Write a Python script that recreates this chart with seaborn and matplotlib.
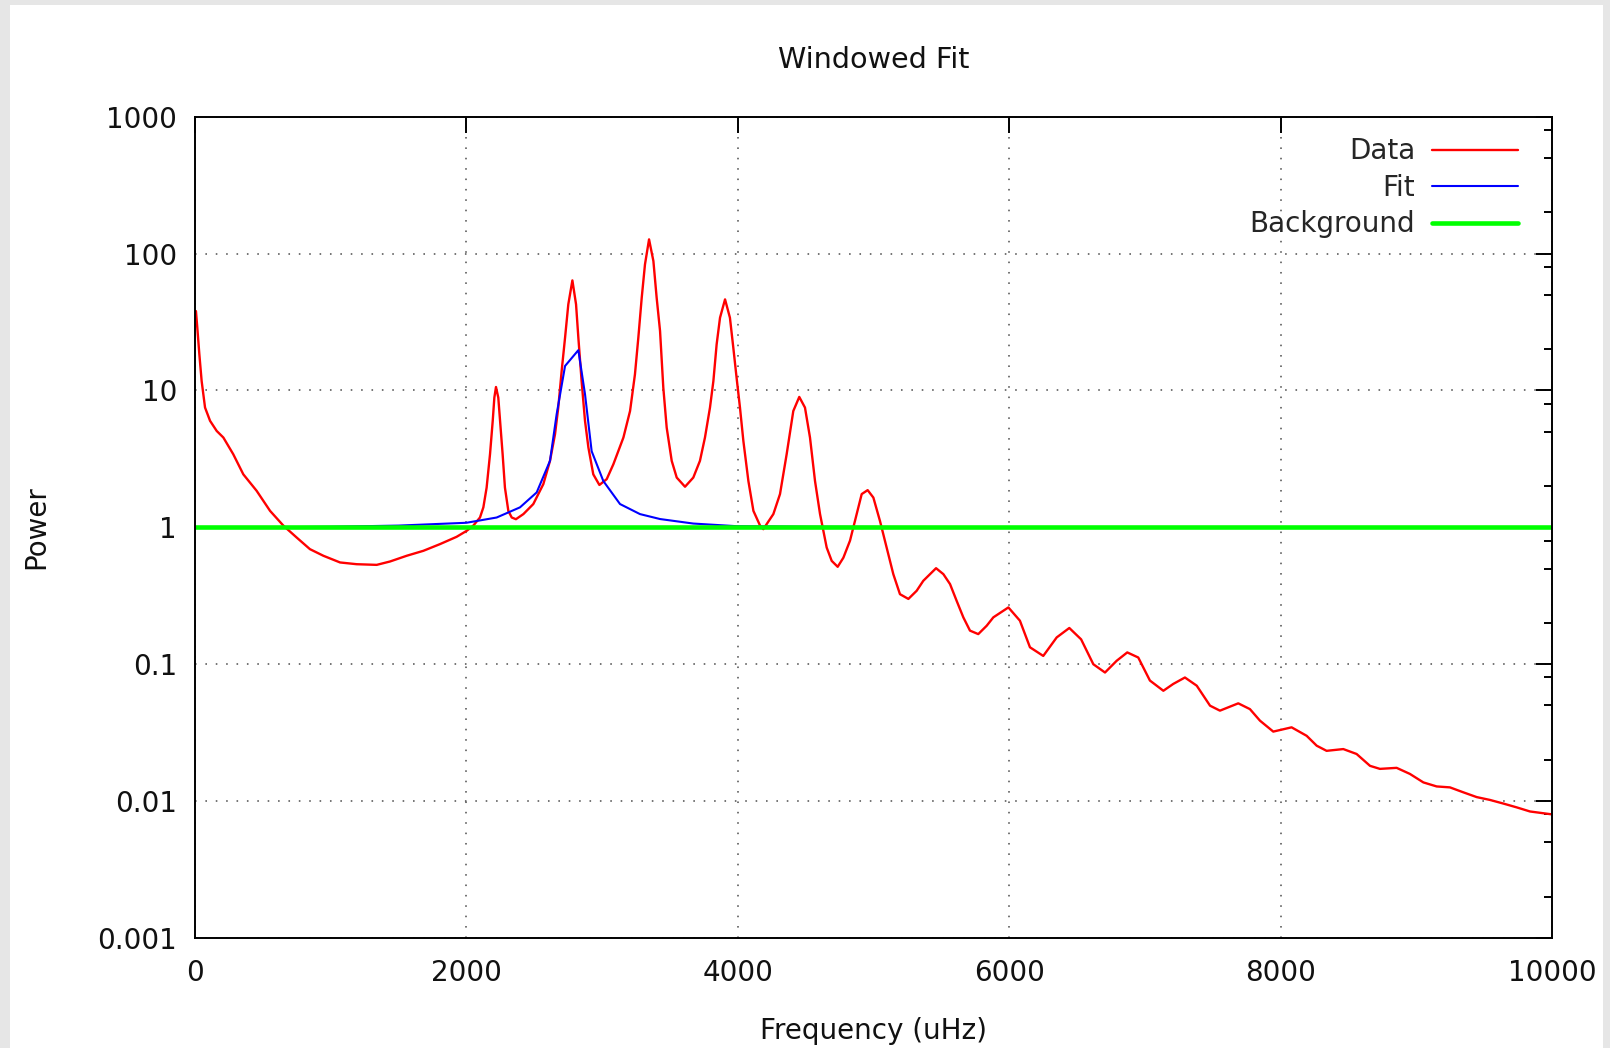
import matplotlib
matplotlib.use("Agg")
import matplotlib.pyplot as plt
from matplotlib.patches import Rectangle
from matplotlib.ticker import LogLocator, FuncFormatter, NullLocator
import seaborn as sns

# Measured power spectrum (frequency in uHz, power)
data_freq = [0, 7, 17, 32, 49, 74, 111, 160, 209, 282, 356, 454, 553, 651, 749, 847,
             946, 1069, 1191, 1339, 1437, 1560, 1683, 1805, 1928, 2002, 2051, 2100,
             2125, 2149, 2174, 2194, 2206, 2218, 2235, 2248, 2267, 2284, 2309, 2334,
             2365, 2420, 2493, 2567, 2616, 2653, 2677, 2702, 2727, 2751, 2781, 2808,
             2825, 2849, 2874, 2899, 2935, 2980, 3034, 3083, 3157, 3206, 3242, 3267,
             3292, 3316, 3346, 3378, 3402, 3427, 3451, 3476, 3513, 3550, 3611, 3672,
             3721, 3758, 3795, 3820, 3844, 3869, 3906, 3942, 3967, 3991, 4016, 4041,
             4078, 4115, 4164, 4188, 4262, 4311, 4360, 4409, 4453, 4495, 4532, 4569,
             4606, 4655, 4692, 4736, 4778, 4827, 4876, 4913, 4957, 4999, 5048, 5097,
             5146, 5195, 5257, 5318, 5367, 5461, 5515, 5564, 5613, 5662, 5711, 5772,
             5834, 5883, 5994, 6079, 6153, 6251, 6350, 6443, 6530, 6620, 6706, 6792,
             6870, 6951, 7037, 7136, 7209, 7295, 7382, 7480, 7553, 7688, 7774, 7848,
             7946, 8081, 8192, 8266, 8339, 8462, 8560, 8659, 8732, 8855, 8953, 9052,
             9150, 9248, 9346, 9445, 9543, 9641, 9740, 9838, 9961, 10000]
data_power = [38, 38, 28.7, 18.4, 11.7, 7.5, 6.0, 5.06, 4.53, 3.42, 2.44, 1.85, 1.32,
              1.03, 0.843, 0.693, 0.62, 0.554, 0.538, 0.532, 0.563, 0.62, 0.674, 0.754,
              0.853, 0.943, 1.03, 1.18, 1.40, 1.95, 3.42, 6.0, 8.87, 10.6, 8.87, 6.0,
              3.42, 1.95, 1.32, 1.18, 1.147, 1.25, 1.48, 2.07, 3.06, 4.79, 7.5, 13.9,
              24.3, 42.6, 63.7, 42.6, 24.3, 11.7, 6.0, 3.83, 2.44, 2.04, 2.25, 2.89,
              4.53, 7.08, 13.1, 24.3, 47.6, 83.4, 127, 88.2, 47.6, 27.2, 10.5, 5.35,
              3.06, 2.31, 1.98, 2.31, 3.06, 4.53, 7.5, 11.7, 21.7, 34.0, 46.3, 34.0,
              20.5, 12.4, 7.5, 4.28, 2.18, 1.32, 1.03, 0.97, 1.25, 1.75, 3.42, 7.08,
              8.97, 7.5, 4.53, 2.18, 1.25, 0.712, 0.569, 0.515, 0.60, 0.80, 1.25, 1.75,
              1.87, 1.65, 1.11, 0.712, 0.455, 0.325, 0.30, 0.344, 0.407, 0.503, 0.455,
              0.385, 0.29, 0.22, 0.176, 0.166, 0.191, 0.22, 0.26, 0.208, 0.133, 0.115,
              0.157, 0.184, 0.152, 0.10, 0.087, 0.106, 0.122, 0.112, 0.076, 0.064,
              0.0718, 0.080, 0.0697, 0.0498, 0.0458, 0.0518, 0.047, 0.0387, 0.0322,
              0.0346, 0.030, 0.0254, 0.0233, 0.024, 0.0221, 0.0181, 0.0172, 0.0175,
              0.0158, 0.0137, 0.0128, 0.0126, 0.0116, 0.0107, 0.0102, 0.0096, 0.0090,
              0.0084, 0.0081, 0.0080]

# Single-mode fit
fit_freq = [0, 500, 1000, 1500, 2000, 2223, 2395, 2518, 2616, 2665, 2727, 2825, 2874,
            2923, 3009, 3132, 3279, 3427, 3672, 3990, 4500, 6000, 8000, 10000]
fit_power = [1.0, 1.0, 1.01, 1.03, 1.08, 1.18, 1.40, 1.80, 3.06, 6.7, 15.1, 19.7, 9.4,
             3.6, 2.18, 1.48, 1.25, 1.15, 1.066, 1.02, 1.01, 1.0, 1.0, 1.0]

# Flat background level
background_freq = [0, 10000]
background_power = [1.0, 1.0]

x_ticks = [0, 2000, 4000, 6000, 8000, 10000]

sns.set_style("white")
plt.rcParams["font.family"] = ["DejaVu Sans"]
FS = 20

fig = plt.figure(figsize=(16.1, 10.48), dpi=100, facecolor="#e6e6e6")
fig.patches.append(Rectangle((10 / 1610, 0), 1593 / 1610, 1043 / 1048,
                             transform=fig.transFigure, facecolor="white",
                             edgecolor="none", zorder=-1))
ax = fig.add_axes([195 / 1610, 1 - 938 / 1048, 1357 / 1610, 821.3 / 1048])
ax.set_facecolor("white")
ax.set_yscale("log")

sns.lineplot(x=data_freq, y=data_power, ax=ax, color="#ff0000", linewidth=1.7,
             label="Data", estimator=None, sort=False)
sns.lineplot(x=fit_freq, y=fit_power, ax=ax, color="#0000ff", linewidth=1.5,
             label="Fit", estimator=None, sort=False)
sns.lineplot(x=background_freq, y=background_power, ax=ax, color="#00ff00",
             linewidth=3.3, label="Background", estimator=None, sort=False)

ax.set_xlim(0, 10000)
ax.set_ylim(1e-3, 1e3)
ax.set_xticks(x_ticks)
ax.xaxis.set_minor_locator(NullLocator())
ax.yaxis.set_major_locator(LogLocator(base=10, numticks=10))
ax.yaxis.set_minor_locator(LogLocator(base=10, subs=(2, 5, 8), numticks=10))
ax.yaxis.set_major_formatter(FuncFormatter(lambda v, _: f"{v:g}"))
ax.xaxis.set_major_formatter(FuncFormatter(lambda v, _: f"{v:g}"))

ax.tick_params(which="both", direction="in", top=True, right=True,
               color="black", width=1.4, labelsize=FS, labelcolor="#111111")
ax.tick_params(which="major", length=11.5)
ax.tick_params(which="minor", length=5.8)
ax.tick_params(axis="x", pad=15)
ax.tick_params(axis="y", pad=13)

for s in ax.spines.values():
    s.set_visible(True)
    s.set_color("black")
    s.set_linewidth(1.4)

ax.grid(True, which="major", color="#555555", linestyle=(0, (1, 5.5)), linewidth=1.15)

ax.set_title("Windowed Fit", fontsize=20.6, y=1.069, va="center", pad=0, color="#111111")
ax.set_xlabel("Frequency (uHz)", fontsize=FS, va="center", color="#111111")
ax.xaxis.set_label_coords(0.5, -0.1133)
ax.set_ylabel("Power", fontsize=FS, va="center", color="#111111")
ax.yaxis.set_label_coords(-0.117, 0.5)

ax.legend(loc="upper right", bbox_to_anchor=(0.975, 0.975), frameon=False,
          markerfirst=False, fontsize=FS, handlelength=3.1, handletextpad=0.6,
          labelspacing=0.31, borderpad=0, borderaxespad=0)

fig.savefig("out.png", dpi=100, facecolor=fig.get_facecolor())
